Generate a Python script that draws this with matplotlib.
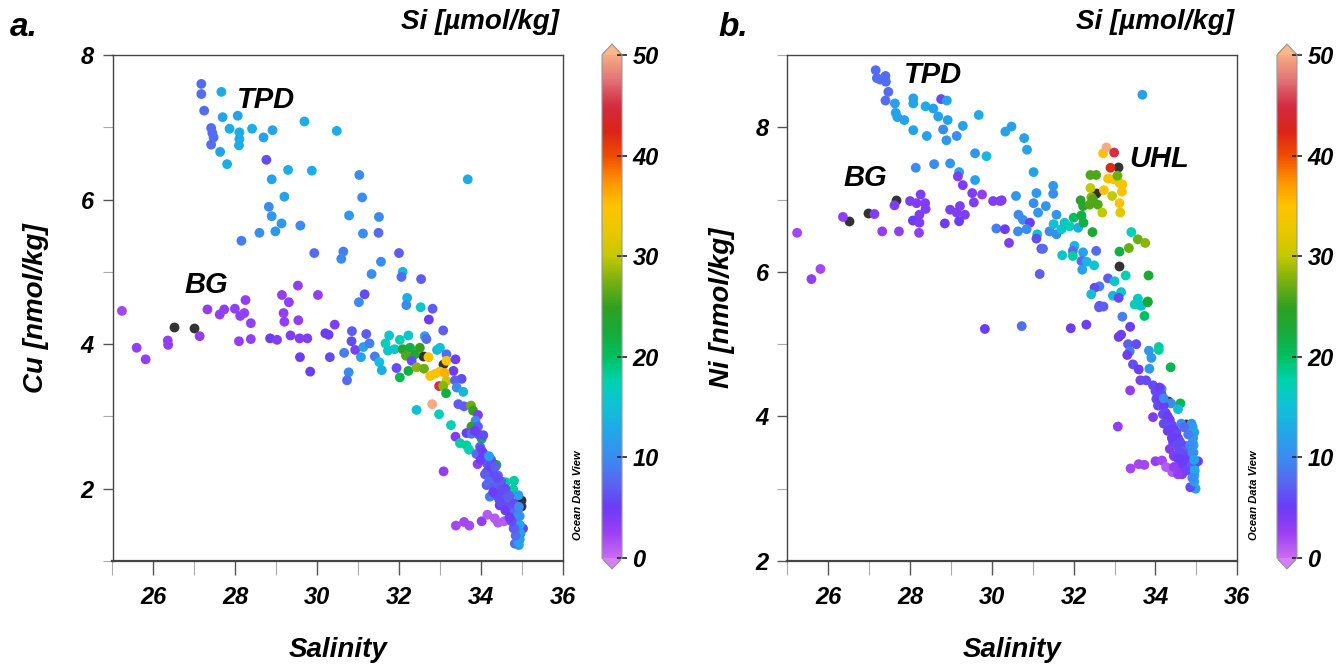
import numpy as np
import matplotlib
matplotlib.use("Agg")
import matplotlib.pyplot as plt
from matplotlib import font_manager
from matplotlib.colors import LinearSegmentedColormap, Normalize
from matplotlib.ticker import MultipleLocator

nan = np.nan

# ---------------- Panel a: Cu vs Salinity, colored by Si ----------------
sal_a = [27.17, 27.17, 27.66, 27.24, 27.69, 28.06, 27.41, 27.86, 28.10, 28.41, 28.91, 28.69, 29.69, 30.48,
         27.44, 27.47, 27.41, 28.10, 28.09, 27.63, 27.80, 28.76, 28.89, 29.29, 29.87, 31.03, 33.68, 29.20,
         31.10, 28.82, 28.89, 29.13, 29.59, 28.98, 28.59, 28.15, 30.78, 31.51, 31.12, 31.50, 29.93, 30.64,
         30.59, 32.00, 31.56, 31.33, 32.09, 32.06, 32.54, 29.53, 29.14, 30.02, 29.31, 31.16, 31.02, 32.20,
         28.25, 32.18, 32.53, 32.82,
         25.23, 26.51, 26.99, 25.59, 25.81, 26.35, 26.36, 27.13, 27.32, 27.62, 27.73, 27.99, 28.12, 28.22,
         28.38, 28.09, 28.38, 28.85, 29.02, 29.18, 29.20, 29.54, 29.35, 29.57, 29.76, 29.58, 29.83, 30.20,
         30.28, 30.43, 30.31, 30.66, 30.85, 30.84, 31.20, 30.77, 30.73, 30.93, 31.13, 31.28, 31.07, 31.41,
         31.52, 31.58, 31.76, 31.67, 31.73, 31.89, 32.02, 32.23, 32.09, 32.27, 32.51, 32.17, 32.39, 32.31,
         31.94, 32.02, 32.23, 32.43, 32.61, 32.58, 32.72, 32.63, 32.67, 32.93, 33.00, 33.08, 32.73, 33.16,
         33.08, 33.16, 33.38, 33.33, 32.76, 32.88, 33.00, 33.12, 33.16, 33.53, 33.37, 32.98, 33.08, 33.15,
         33.41, 33.57, 32.81, 32.43, 32.98, 33.27, 33.45, 33.59, 33.76, 33.81, 33.93, 33.87, 33.77, 33.93,
         33.38, 33.65, 33.49, 33.65, 33.71, 33.77, 34.02, 34.06, 33.98, 33.89, 34.06, 33.92, 33.09, 34.18,
         34.38, 34.14, 34.30, 34.42, 34.61, 34.81, 34.79, 34.14, 34.22, 34.46, 34.63, 34.92, 34.97, 34.97,
         34.46, 34.71, 33.39, 33.59, 33.72, 34.02, 34.16, 34.34, 34.42, 34.57, 34.79, 35.03, 34.87, 34.93,
         34.91, 34.93, 34.83,
         34.00, 34.05, 34.10, 34.15, 34.20, 34.25, 34.30, 34.35, 34.40, 34.45, 34.50, 34.55, 34.60, 34.65,
         34.70, 34.75, 34.80, 34.85, 34.90, 34.10, 34.20, 34.30, 34.40, 34.50, 34.60, 34.25, 34.35, 34.50,
         34.60, 34.70, 34.80, 34.90, 34.95, 34.95, 34.97, 34.95, 34.93, 34.90, 34.85, 34.92, 34.85, 34.80,
         34.75, 34.70, 33.95, 33.85, 34.00, 34.20, 34.40, 34.55, 34.65, 34.45, 34.30]
cu_a = [7.60, 7.46, 7.49, 7.23, 7.14, 7.16, 6.99, 6.98, 6.93, 6.98, 6.96, 6.86, 7.08, 6.95,
        6.92, 6.86, 6.76, 6.84, 6.75, 6.66, 6.49, 6.55, 6.28, 6.41, 6.40, 6.34, 6.28, 6.04,
        6.03, 5.90, 5.77, 5.67, 5.64, 5.56, 5.54, 5.43, 5.78, 5.76, 5.53, 5.54, 5.26, 5.28,
        5.18, 5.26, 5.14, 4.97, 5.00, 4.93, 4.90, 4.81, 4.68, 4.68, 4.58, 4.69, 4.58, 4.64,
        4.61, 4.54, 4.51, 4.49,
        4.46, 4.24, 4.22, 3.95, 3.79, 4.05, 3.99, 4.11, 4.48, 4.41, 4.48, 4.49, 4.39, 4.43,
        4.29, 4.04, 4.07, 4.08, 4.06, 4.43, 4.31, 4.33, 4.12, 4.08, 4.08, 3.82, 3.62, 4.15,
        4.13, 4.27, 3.82, 3.88, 4.18, 4.04, 4.14, 3.61, 3.50, 3.92, 3.96, 4.01, 3.82, 3.83,
        3.75, 3.64, 4.12, 4.01, 3.91, 3.93, 4.06, 4.12, 3.93, 3.95, 3.95, 3.84, 3.86, 3.77,
        3.67, 3.54, 3.63, 3.68, 3.66, 3.84, 3.82, 4.11, 4.07, 3.92, 3.95, 4.19, 4.34, 3.86,
        3.72, 3.77, 3.79, 3.63, 3.56, 3.59, 3.62, 3.60, 3.49, 3.52, 3.50, 3.42, 3.42, 3.32,
        3.40, 3.34, 3.17, 3.09, 3.03, 2.88, 3.17, 3.14, 3.15, 3.08, 3.02, 2.94, 2.86, 2.86,
        2.72, 2.77, 2.63, 2.60, 2.54, 2.76, 2.69, 2.74, 2.58, 2.48, 2.46, 2.34, 2.24, 2.37,
        2.33, 2.23, 2.14, 2.18, 2.09, 2.11, 1.99, 2.05, 1.89, 1.95, 1.86, 1.91, 1.84, 1.76,
        1.77, 1.72, 1.49, 1.54, 1.49, 1.55, 1.64, 1.59, 1.53, 1.55, 1.59, 1.45, 1.54, 1.40,
        1.31, 1.22, 1.24,
        2.55, 2.50, 2.42, 2.35, 2.30, 2.25, 2.20, 2.12, 2.05, 2.00, 1.95, 1.88, 1.82, 1.78,
        1.70, 1.65, 1.60, 1.55, 1.48, 2.20, 2.10, 2.02, 1.90, 1.80, 1.70, 2.40, 2.30, 2.10,
        2.00, 1.90, 1.80, 1.70, 1.62, 1.50, 1.38, 1.30, 1.75, 1.62, 1.45, 1.26, 1.35, 1.45,
        1.55, 1.60, 2.75, 2.80, 2.40, 2.45, 2.15, 1.98, 1.88, 1.85, 1.95]
si_a = [8, 8, 13, 8, 12, 12, 8, 13, 13, 13, 12, 12, 13, 13,
        8, 8, 8, 13, 13, 12, 13, 6, 12, 13, 13, 10, 13, 12,
        10, 10, 11, 11, 10, 11, 10, 9, 11, 10, 10, 8, 8, 9,
        10, 7, 10, 10, 14, 8, 7, 3, 3, 3, 3, 6, 10, 13,
        3, 10, 16, 7,
        2, nan, nan, 3, 3, 3, 3, 3, 3, 3, 3, 3, 3, 3,
        3, 3, 3, 5, 4, 3, 3, 3, 4, 4, 4, 5, 5, 5,
        5, 4, 6, 9, 7, 6, 7, 10, 8, 4, 12, 9, 12, 9,
        15, 13, 16, 17, 16, 16, 17, 16, 24, 22, 25, 26, 24, 6,
        6, 21, 22, 28, 27, nan, 34, 12, 8, 14, 15, 7, 5, 8,
        nan, 34, 5, 5, 35, 35, 35, 36, 30, 6, 7, 45, 28, 22,
        10, 14, 50, 15, 17, 17, 7, 7, 27, 25, 4, 10, 25, 7,
        4, 5, 18, 18, 17, 8, 22, 6, 8, 8, 7, 3, 3, 7,
        23, 6, 6, 8, 18, 18, 18, 7, 9, 6, 6, 12, nan, nan,
        5, 6, 2, 2, 2, 3, 1, 1, 1, 1, 5, 5, 10, 10,
        12, 12, 8,
        6, 5, 6, 7, 6, 5, 6, 6, 7, 6, 6, 6, 7, 6,
        7, 8, 7, 8, 9, 7, 8, 7, 6, 6, 5, 6, 7, 7,
        6, 7, 6, 8, 11, 12, 12, 11, 10, 10, 9, 12, 8, 7,
        6, 5, 6, 5, 5, 12, 6, 6, 7, 6, 5]

# ---------------- Panel b: Ni vs Salinity, colored by Si ----------------
sal_b = [27.16, 27.19, 27.40, 27.41, 27.27, 27.47, 27.40, 27.63, 27.65, 27.69, 27.86, 28.08, 28.08, 28.08,
         28.38, 28.57, 28.76, 28.90, 28.69, 28.92, 28.41, 28.81, 28.89, 29.14, 29.29, 29.68, 30.33, 30.48,
         30.79, 30.86, 29.59, 29.87, 28.14, 28.59, 28.98, 29.20, 29.59, 29.17, 29.29, 31.02, 31.50, 31.50,
         31.09, 30.59, 31.02, 31.32, 31.13, 30.65, 30.76, 30.93, 30.85, 30.64, 31.11, 31.09, 31.41, 31.58,
         31.58, 31.51, 31.70, 31.78, 31.90, 32.00, 32.11, 32.19, 32.24, 32.23, 32.17, 32.39, 32.59, 32.43,
         32.47, 32.41, 32.55, 32.70, 32.74, 32.94, 33.12, 33.14, 33.18, 33.19, 33.12, 32.98, 32.84, 33.07,
         32.41, 32.55, 32.90, 33.09, 32.72, 32.80, 32.99, 33.68, 32.46, 33.41, 33.57, 33.75, 33.35, 33.12,
         33.12, 33.83, 33.27, 32.84, 33.00, 32.63, 32.51, 32.43, 32.96, 33.16, 33.10, 33.57, 33.61, 33.81,
         32.63, 32.02, 31.98, 32.23, 32.55, 31.72, 31.98, 32.19, 32.32, 32.50, 32.21, 31.21, 31.25, 30.42,
         31.17, 30.11, 30.32, 30.20, 30.03, 30.24, 29.76, 29.52, 29.56, 29.22, 28.98, 29.14, 29.34, 29.20,
         28.85, 28.26, 28.16, 28.00, 28.37, 28.38, 28.23, 28.07, 28.23, 28.22, 27.73, 27.32, 27.65, 27.62,
         26.98, 27.13, 26.52, 26.36, 25.24, 25.81, 25.59,
         29.83, 30.73, 31.93, 32.31, 32.62, 32.73, 33.19, 33.38, 33.49, 33.65, 33.81, 33.73, 33.10, 33.16,
         33.33, 33.53, 33.37, 33.31, 33.84, 34.08, 34.08, 33.90, 34.37, 33.45, 33.59, 33.85, 33.63, 33.77,
         33.38, 33.08, 33.94, 34.00, 34.15, 34.02, 34.18, 34.38, 34.61, 34.55, 34.30, 34.06, 33.94, 34.18,
         34.30, 34.75, 34.63, 34.91, 34.95, 34.91, 34.93, 34.95, 34.95, 34.98, 34.85, 35.04, 34.51, 34.43,
         34.59, 34.75, 34.46, 34.59, 34.79, 34.75, 33.39, 33.59, 33.73, 34.00, 34.16, 34.26, 34.41, 34.55,
         34.05, 34.10, 34.20, 34.25, 34.30, 34.35, 34.40, 34.45, 34.50, 34.55, 34.60, 34.65, 34.70, 34.75,
         34.80, 34.85, 34.90, 34.20, 34.30, 34.40, 34.50, 34.60, 34.70, 34.35, 34.45, 34.55, 34.65, 34.75,
         34.90, 34.92, 34.93, 34.95, 34.96, 34.95, 34.90, 34.85, 34.80, 34.88, 34.70, 34.10, 34.15, 34.20,
         34.65, 34.55, 34.45]
ni_b = [8.79, 8.68, 8.71, 8.63, 8.66, 8.49, 8.37, 8.33, 8.20, 8.14, 8.10, 8.40, 8.33, 7.96,
        8.29, 8.26, 8.39, 8.37, 8.15, 8.10, 7.88, 7.97, 7.82, 7.88, 8.02, 8.17, 7.94, 8.01,
        7.85, 7.69, 7.64, 7.60, 7.44, 7.49, 7.50, 7.38, 7.27, 7.32, 7.20, 7.38, 7.19, 7.08,
        7.09, 7.05, 6.95, 6.91, 6.82, 6.79, 6.72, 6.68, 6.59, 6.56, 6.52, 6.46, 6.56, 6.52,
        6.79, 6.66, 6.59, 6.68, 6.63, 6.75, 6.61, 6.78, 6.68, 6.91, 6.99, 6.93, 6.93, 7.03,
        7.00, 7.16, 7.09, 6.82, 7.13, 7.05, 6.95, 6.82, 7.11, 7.21, 7.23, 7.28, 7.29, 7.33,
        7.34, 7.34, 7.44, 7.45, 7.64, 7.72, 7.65, 8.45, 6.55, 6.55, 6.45, 6.40, 6.33, 6.28,
        6.08, 5.95, 5.95, 5.91, 5.87, 5.80, 5.78, 5.69, 5.67, 5.72, 5.64, 5.63, 5.55, 5.59,
        5.53, 6.36, 6.29, 6.27, 6.29, 6.23, 6.22, 6.15, 6.14, 6.09, 6.03, 6.32, 6.32, 6.40,
        5.97, 6.60, 6.59, 6.98, 6.98, 6.99, 7.07, 7.09, 6.96, 6.91, 6.86, 6.82, 6.79, 6.70,
        6.67, 7.07, 6.95, 6.98, 6.95, 6.87, 6.79, 6.71, 6.68, 6.54, 6.56, 6.56, 7.00, 6.92,
        6.81, 6.80, 6.70, 6.76, 6.54, 6.04, 5.90,
        5.21, 5.25, 5.22, 5.27, 5.51, 5.52, 5.38, 5.24, 5.55, 5.53, 5.58, 5.39, 5.10, 5.13,
        5.00, 5.00, 4.90, 4.85, 4.91, 4.96, 4.92, 4.81, 4.68, 4.72, 4.65, 4.66, 4.50, 4.50,
        4.36, 3.86, 4.43, 4.35, 4.38, 4.24, 4.19, 4.18, 4.18, 4.10, 4.21, 4.15, 3.99, 4.03,
        3.92, 3.90, 3.90, 3.85, 3.78, 3.64, 3.50, 3.32, 3.18, 3.00, 3.02, 3.38, 3.78, 3.64,
        3.55, 3.59, 3.46, 3.37, 3.32, 3.46, 3.28, 3.34, 3.33, 3.38, 3.39, 3.30, 3.23, 3.30,
        4.30, 4.25, 4.15, 4.05, 4.00, 3.95, 3.88, 3.82, 3.75, 3.70, 3.65, 3.60, 3.52, 3.45,
        3.40, 3.35, 3.25, 3.90, 3.80, 3.70, 3.60, 3.50, 3.40, 3.55, 3.45, 3.42, 3.35, 3.25,
        3.50, 3.70, 3.60, 3.40, 3.25, 3.10, 3.15, 3.60, 3.75, 3.90, 3.85, 4.40, 4.30, 4.25,
        3.20, 3.20, 3.30]
si_b = [8, 8, 8, 8, 8, 8, 8, 12, 12, 12, 12, 12, 12, 12,
        13, 12, 6, 12, 12, 12, 12, 10, 11, 10, 12, 13, 12, 12,
        12, 12, 11, 14, 10, 10, 11, 12, 12, 4, 4, 12, 11, 10,
        11, 11, 10, 11, 11, 10, 10, 5, 10, 10, 16, 6, 10, 10,
        11, 15, 16, 16, 17, 20, 13, 22, 22, 24, 24, 26, 26, 28,
        26, 30, nan, 30, 35, 30, 35, 32, 35, 35, 34, 34, 34, 27,
        26, 26, 42, nan, 35, 50, 45, 12, 23, 17, 27, 28, 27, 22,
        nan, 23, 17, 7, 16, 9, 6, 15, 14, 16, 6, 16, 17, 22,
        6, 14, 8, 12, 8, 16, 18, 8, 14, 16, 12, 6, 8, 4,
        7, 9, 5, 4, 4, 4, 3, 4, 4, 4, 4, 4, 4, 5,
        5, 4, 4, 4, 4, 4, 4, 5, 4, 3, 3, 3, nan, 4,
        nan, 4, nan, 3, 2, 2, 3,
        5, 8, 5, 5, 7, 7, 9, 5, 17, 16, 23, 20, 5, 5,
        7, 6, 9, 5, 11, 18, 18, 11, 21, 6, 5, 11, 4, 6,
        3, 3, 6, 6, 10, 6, 6, 10, 21, 15, nan, 6, 4, 6,
        6, nan, 10, 12, 12, 12, 12, 12, 12, 12, 6, 5, 6, 6,
        6, 8, 4, 4, 6, 7, 2, 2, 2, 3, 2, 1, 1, 3,
        6, 5, 5, 6, 5, 5, 6, 5, 6, 5, 6, 6, 7, 6,
        6, 7, 9, 6, 5, 5, 6, 6, 5, 4, 4, 5, 5, 6,
        10, 11, 12, 12, 13, 12, 10, 10, 9, 11, 8, 5, 6, 10,
        4, 3, 3]

cbar_ticks = [0, 10, 20, 30, 40, 50]
x_ticks = [26, 28, 30, 32, 34, 36]

# ---------------- Style ----------------
names = {f.name for f in font_manager.fontManager.ttflist}
main_font = 'Liberation Sans Narrow' if 'Liberation Sans Narrow' in names else 'Liberation Sans'
plt.rcParams['font.family'] = [main_font, 'DejaVu Sans']
plt.rcParams['font.weight'] = 'bold'
plt.rcParams['font.style'] = 'italic'
plt.rcParams['axes.labelweight'] = 'bold'

odv_colors = [
    (0.00, '#c86af2'), (0.05, '#9a3ef2'), (0.10, '#6a3cf6'), (0.15, '#5868f0'),
    (0.20, '#3a8cf0'), (0.25, '#20a8e8'), (0.30, '#10c0d8'), (0.35, '#00d2b0'),
    (0.40, '#00c060'), (0.45, '#18aa3a'), (0.50, '#30a020'), (0.55, '#78b010'),
    (0.60, '#c4c800'), (0.65, '#e8c800'), (0.70, '#ffc400'), (0.75, '#ff9400'),
    (0.80, '#ee4c00'), (0.85, '#da2418'), (0.90, '#d22c40'), (0.95, '#e07074'),
    (1.00, '#f6aa84')]
cmap = LinearSegmentedColormap.from_list('odv', odv_colors, N=256)
cmap.set_over('#f8b888')
cmap.set_under('#d47ef8')
norm = Normalize(vmin=0, vmax=50)

W, H = 1336, 665
fig = plt.figure(figsize=(W / 100, H / 100), dpi=100)
TXT = dict(fontweight='bold', fontstyle='italic')


def px(x0, y0, x1, y1):
    return [x0 / W, 1 - y1 / H, (x1 - x0) / W, (y1 - y0) / H]


def panel(ax_rect, cax_rect, sal, val, si, ylim, yticks, ylabel, ylabel_x, letter, letter_x,
          title_x, annots, odv_x):
    ax = fig.add_axes(px(*ax_rect))
    sal = np.asarray(sal, float)
    val = np.asarray(val, float)
    si = np.asarray(si, float)
    nanmask = np.isnan(si)
    ax.scatter(sal[nanmask], val[nanmask], s=50, c='#333333', linewidths=0, zorder=2)
    sc = ax.scatter(sal[~nanmask], val[~nanmask], c=si[~nanmask], cmap=cmap, norm=norm,
                    s=50, linewidths=0, zorder=3)
    ax.set_xlim(25, 36)
    ax.set_ylim(*ylim)
    ax.set_xticks(x_ticks)
    ax.xaxis.set_minor_locator(MultipleLocator(1))
    ax.set_yticks(yticks)
    ax.yaxis.set_minor_locator(MultipleLocator(1))
    ax.tick_params(axis='both', which='major', direction='out', length=7.5, width=1.0,
                   color='#555555', labelsize=17, pad=6)
    ax.tick_params(axis='both', which='minor', direction='out', length=7.5, width=0.8,
                   color='#aaaaaa')
    ax.tick_params(axis='x', which='both', length=10, pad=8)
    for s in ax.spines.values():
        s.set_color('#444444')
        s.set_linewidth(1.0)
    ax.spines['bottom'].set_linewidth(1.6)
    for lab in ax.get_xticklabels() + ax.get_yticklabels():
        lab.set_fontweight('bold')
        lab.set_fontstyle('italic')
    x_center = (ax_rect[0] + ax_rect[2]) / 2
    fig.text(x_center / W, 1 - 650 / H, 'Salinity', fontsize=20, ha='center', va='center', **TXT)
    fig.text(ylabel_x / W, 1 - 308 / H, ylabel, fontsize=20, rotation=90,
             ha='center', va='center', **TXT)
    for (tx, ty, t) in annots:
        ax.text(tx, ty, t, fontsize=21, ha='center', va='center', zorder=5, **TXT)
    fig.text(letter_x / W, 1 - 28 / H, letter, fontsize=24, ha='left', va='center', **TXT)
    fig.text(title_x / W, 1 - 22 / H, 'Si [µmol/kg]', fontsize=20, ha='center', va='center', **TXT)
    fig.text(odv_x / W, 1 - 495 / H, 'Ocean Data View', fontsize=8, rotation=90,
             ha='center', va='center', **TXT)

    cax = fig.add_axes(px(*cax_rect))
    cb = fig.colorbar(sc, cax=cax, extend='both', extendfrac=0.022, ticks=cbar_ticks)
    cb.outline.set_edgecolor('#999999')
    cb.outline.set_linewidth(0.8)
    cax.tick_params(direction='inout', length=7, width=1.2, color='#222222', labelsize=17, pad=4)
    for lab in cax.get_yticklabels():
        lab.set_fontweight('bold')
        lab.set_fontstyle('italic')
    return ax


# colorbar body spans 55..558 px; the axes includes the extension triangles
panel((112.5, 55, 562.7, 561), (602, 44, 622, 569), sal_a, cu_a, si_a, (1, 8), [2, 4, 6, 8],
      'Cu [nmol/kg]', 36, 'a.', 10, 480,
      [(28.75, 7.38, 'TPD'), (27.3, 4.82, 'BG')], 578)
panel((787.3, 55, 1237.3, 561), (1277, 44, 1297, 569), sal_b, ni_b, si_b, (2, 9), [2, 4, 6, 8],
      'Ni [nmol/kg]', 722, 'b.', 718, 1155,
      [(28.55, 8.73, 'TPD'), (26.9, 7.3, 'BG'), (34.1, 7.56, 'UHL')], 1254)

fig.savefig('out.png', dpi=100)
